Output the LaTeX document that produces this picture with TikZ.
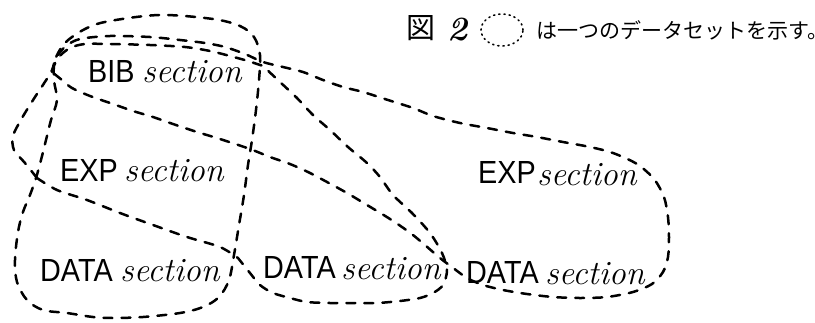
\documentclass[tikz,border=0pt]{standalone}
\usepackage{fontspec}
\newfontfamily\cjkfont{Noto Sans CJK JP}
\newfontfamily\capsfont[FakeStretch=0.9]{Liberation Sans}
\begin{document}
\begin{tikzpicture}[x=1pt,y=-1pt,
  ds/.style={line width=2.5pt, dash pattern=on 9pt off 9pt, line cap=round, line join=round},
  lbl/.style={inner sep=0pt, anchor=base west},
  capw/.style={lbl, font=\capsfont\fontsize{32}{32}\selectfont},
  scw/.style={lbl, font=\itshape\fontsize{34}{34}\selectfont}]
\useasboundingbox[fill=white] (0,0) rectangle (815,322);

% data set 1: left column
\draw[ds] plot[smooth cycle, tension=0.55] coordinates {
  (55,60) (66,42) (87,28) (110,21) (160,15) (213,19) (240,26) (254,37) (260,55)
  (259,80) (256,110) (252,140) (248,165) (244,195) (239,225) (234,255) (229,280)
  (219,297) (203,307) (180,313) (143,317) (113,318) (93,317) (67,313) (43,310)
  (27,300) (17,282) (15,260) (18,232) (23,212) (30,195) (36,178) (41,160)
  (46,140) (51,120) (57,100) (54,80)};

% data set 2: BIB, left EXP, middle DATA
\draw[ds] plot[smooth, tension=0.5] coordinates {
  (37,178) (25,163) (14,150) (13,136) (22,118) (35,97) (50,74) (58,58) (70,48)
  (85,44) (110,44) (150,45) (185,47) (210,51) (230,56) (248,61) (263,66)}
  -- plot[smooth, tension=0.5] coordinates {
  (263,66) (280,82) (297,98) (313,115) (330,130) (348,147) (367,163) (380,177)
  (393,195) (412,213) (430,233) (442,253) (447,270) (443,285) (433,293)
  (420,298) (400,301) (377,303) (353,303) (330,303) (307,302) (290,298)
  (273,293) (260,285) (250,273) (238,258)}
  -- plot[smooth, tension=0.5] coordinates {
  (238,258) (220,247) (187,237) (153,225) (120,213) (87,200) (57,190) (37,178)};

% data set 3: BIB, right EXP, right DATA
\draw[ds] plot[smooth, tension=0.5] coordinates {
  (52,72) (56,58) (66,46) (80,39) (110,36) (150,37) (180,40) (205,43) (225,47)
  (245,54) (263,62) (283,67) (303,72) (323,80) (343,87) (363,92) (388,100)
  (413,108) (433,116) (460,123) (487,128) (513,133) (537,137) (563,142)
  (590,147) (613,153) (637,164) (654,179) (664,197) (668,217) (669,237)
  (668,257) (663,272) (652,284) (633,292) (607,297) (580,298) (553,297)
  (527,294) (503,290) (483,285) (467,278) (452,267)}
  -- plot[smooth, tension=0.5] coordinates {
  (452,267) (440,258) (413,235) (390,219) (367,205) (347,193) (327,182)
  (308,172) (290,164) (270,157) (250,149) (220,139) (197,132) (173,124)
  (153,117) (133,111) (113,104) (90,96) (72,88) (62,80) (52,72)};

% section labels
\node[capw] (bibc) at (88,82) {BIB};
\node[scw]  (bibs) at (142,82) {section};
\node[capw] (expc1) at (60,181) {EXP};
\node[scw]  (exps1) at (124,181) {section};
\node[capw] (datc1) at (40,281) {DATA};
\node[scw]  (dats1) at (120,281) {section};
\node[capw] (datc2) at (263,278) {DATA};
\node[scw]  (dats2) at (341,279) {section};
\node[capw] (expc3) at (478,183) {EXP};
\node[scw]  (exps3) at (537,185) {section};
\node[capw] (datc3) at (466,283) {DATA};
\node[scw]  (dats3) at (545,284) {section};

% caption
\node[inner sep=0pt] (fig) at (421,28) {\cjkfont\fontsize{29}{29}\selectfont 図};
\node[inner sep=0pt] (fignum) at (458,30) {\itshape\bfseries\fontsize{34}{34}\selectfont 2};
\draw[line width=1.6pt, dash pattern=on 1.2pt off 4pt, line cap=round]
  (502,30) ellipse [x radius=21pt, y radius=16pt];
\node[inner sep=0pt, anchor=west] (cap) at (536,30)
  {\cjkfont\fontsize{21}{21}\selectfont は一つのデータセットを示す。};
\end{tikzpicture}
\end{document}
